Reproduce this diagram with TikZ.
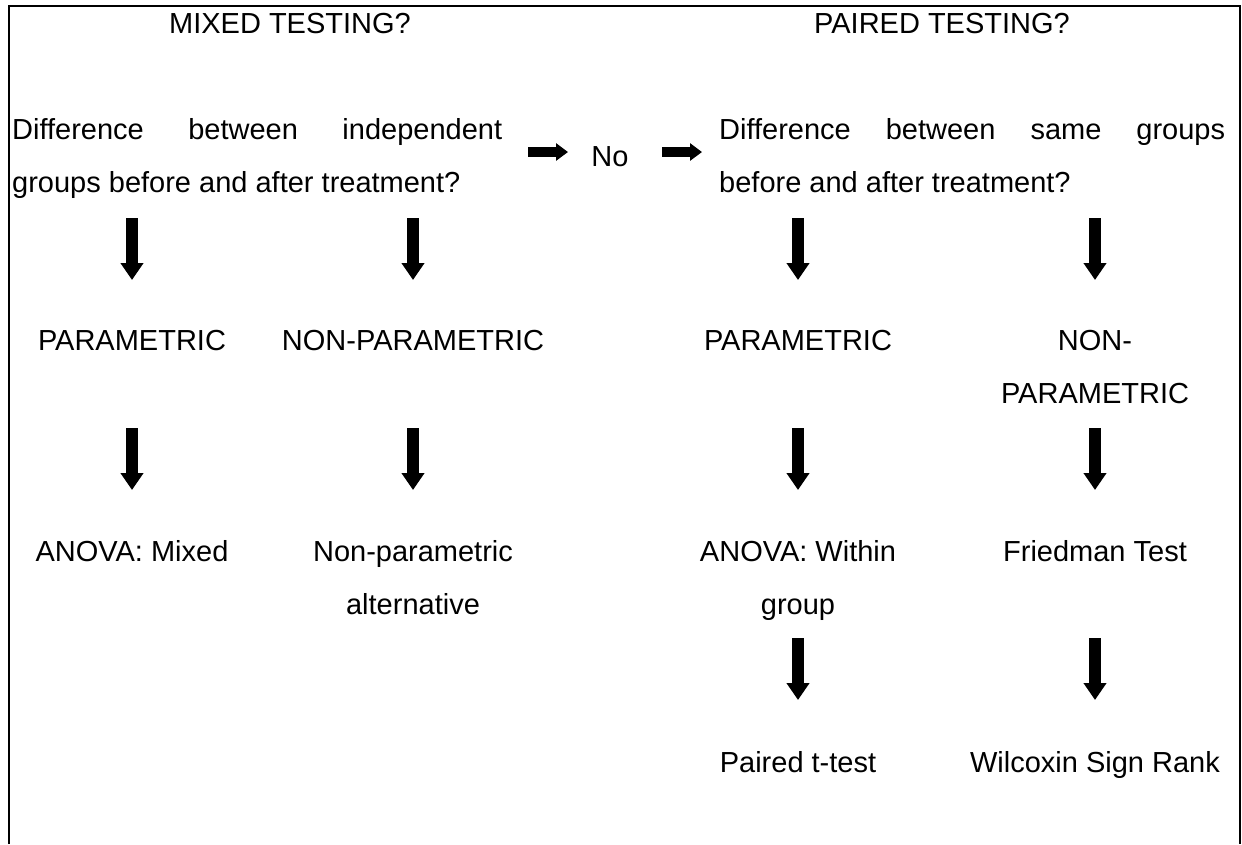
\documentclass[tikz,border=0pt]{standalone}
\usepackage{fontspec}
\setmainfont{Liberation Sans}
\usetikzlibrary{arrows.meta}
\begin{document}
\begin{tikzpicture}[x=1pt,y=-1pt,
  lbl/.style={inner sep=0pt, anchor=base, font=\fontsize{29}{53}\selectfont},
  lblw/.style={lbl, anchor=base west},
  darrow/.style={line width=11.7pt, -{Triangle[length=17pt,width=22pt]}},
  harrow/.style={line width=10pt, -{Triangle[length=12pt,width=17pt]}},
  frameline/.style={line width=2pt}]
\useasboundingbox (0,0) rectangle (1242,844);
\draw[frameline] (8.5,844) -- (8.5,6) -- (1240,6) -- (1240,844);

% titles
\node[lbl] (tMixed) at (290,33) {MIXED TESTING?};
\node[lbl] (tPaired) at (942,33) {PAIRED TESTING?};

% questions
\node[lblw] (qL1) at (12,139) {\hbox to 490pt{Difference\hfill between\hfill independent}};
\node[lblw] (qL2) at (12,192) {groups before and after treatment?};
\node[lbl] (no) at (610,166) {No};
\node[lblw] (qR1) at (719,139) {\hbox to 506pt{Difference\hfill between\hfill same\hfill groups}};
\node[lblw] (qR2) at (719,192) {before and after treatment?};

% second row
\node[lbl] (p1) at (132,350) {PARAMETRIC};
\node[lbl] (np1) at (413,350) {NON-PARAMETRIC};
\node[lbl] (p2) at (798,350) {PARAMETRIC};
\node[lbl] (np2a) at (1095,350) {NON-};
\node[lbl] (np2b) at (1095,403) {PARAMETRIC};

% third row
\node[lbl] (aMixed) at (132,561) {ANOVA: Mixed};
\node[lbl] (npAlt1) at (413,561) {Non-parametric};
\node[lbl] (npAlt2) at (413,614) {alternative};
\node[lbl] (aWithin1) at (798,561) {ANOVA: Within};
\node[lbl] (aWithin2) at (798,614) {group};
\node[lbl] (fried) at (1095,561) {Friedman Test};

% fourth row
\node[lbl] (ttest) at (798,772) {Paired t-test};
\node[lbl] (wilc) at (1095,772) {Wilcoxin Sign Rank};

% horizontal arrows
\coordinate (h1s) at (528,152);
\coordinate (h1e) at (568,152);
\coordinate (h2s) at (662,152);
\coordinate (h2e) at (702,152);
\draw[harrow] (h1s) -- (h1e);
\draw[harrow] (h2s) -- (h2e);

% down arrows
\foreach \n/\x/\y in {a1/132/218, a2/413/218, a3/798/218, a4/1095/218,
                      b1/132/428, b2/413/428, b3/798/428, b4/1095/428,
                      c3/798/638, c4/1095/638}{
  \coordinate (\n s) at (\x,\y);
  \coordinate (\n e) at (\x,\y+62);
  \draw[darrow] (\n s) -- (\n e);
}
\end{tikzpicture}
\end{document}
